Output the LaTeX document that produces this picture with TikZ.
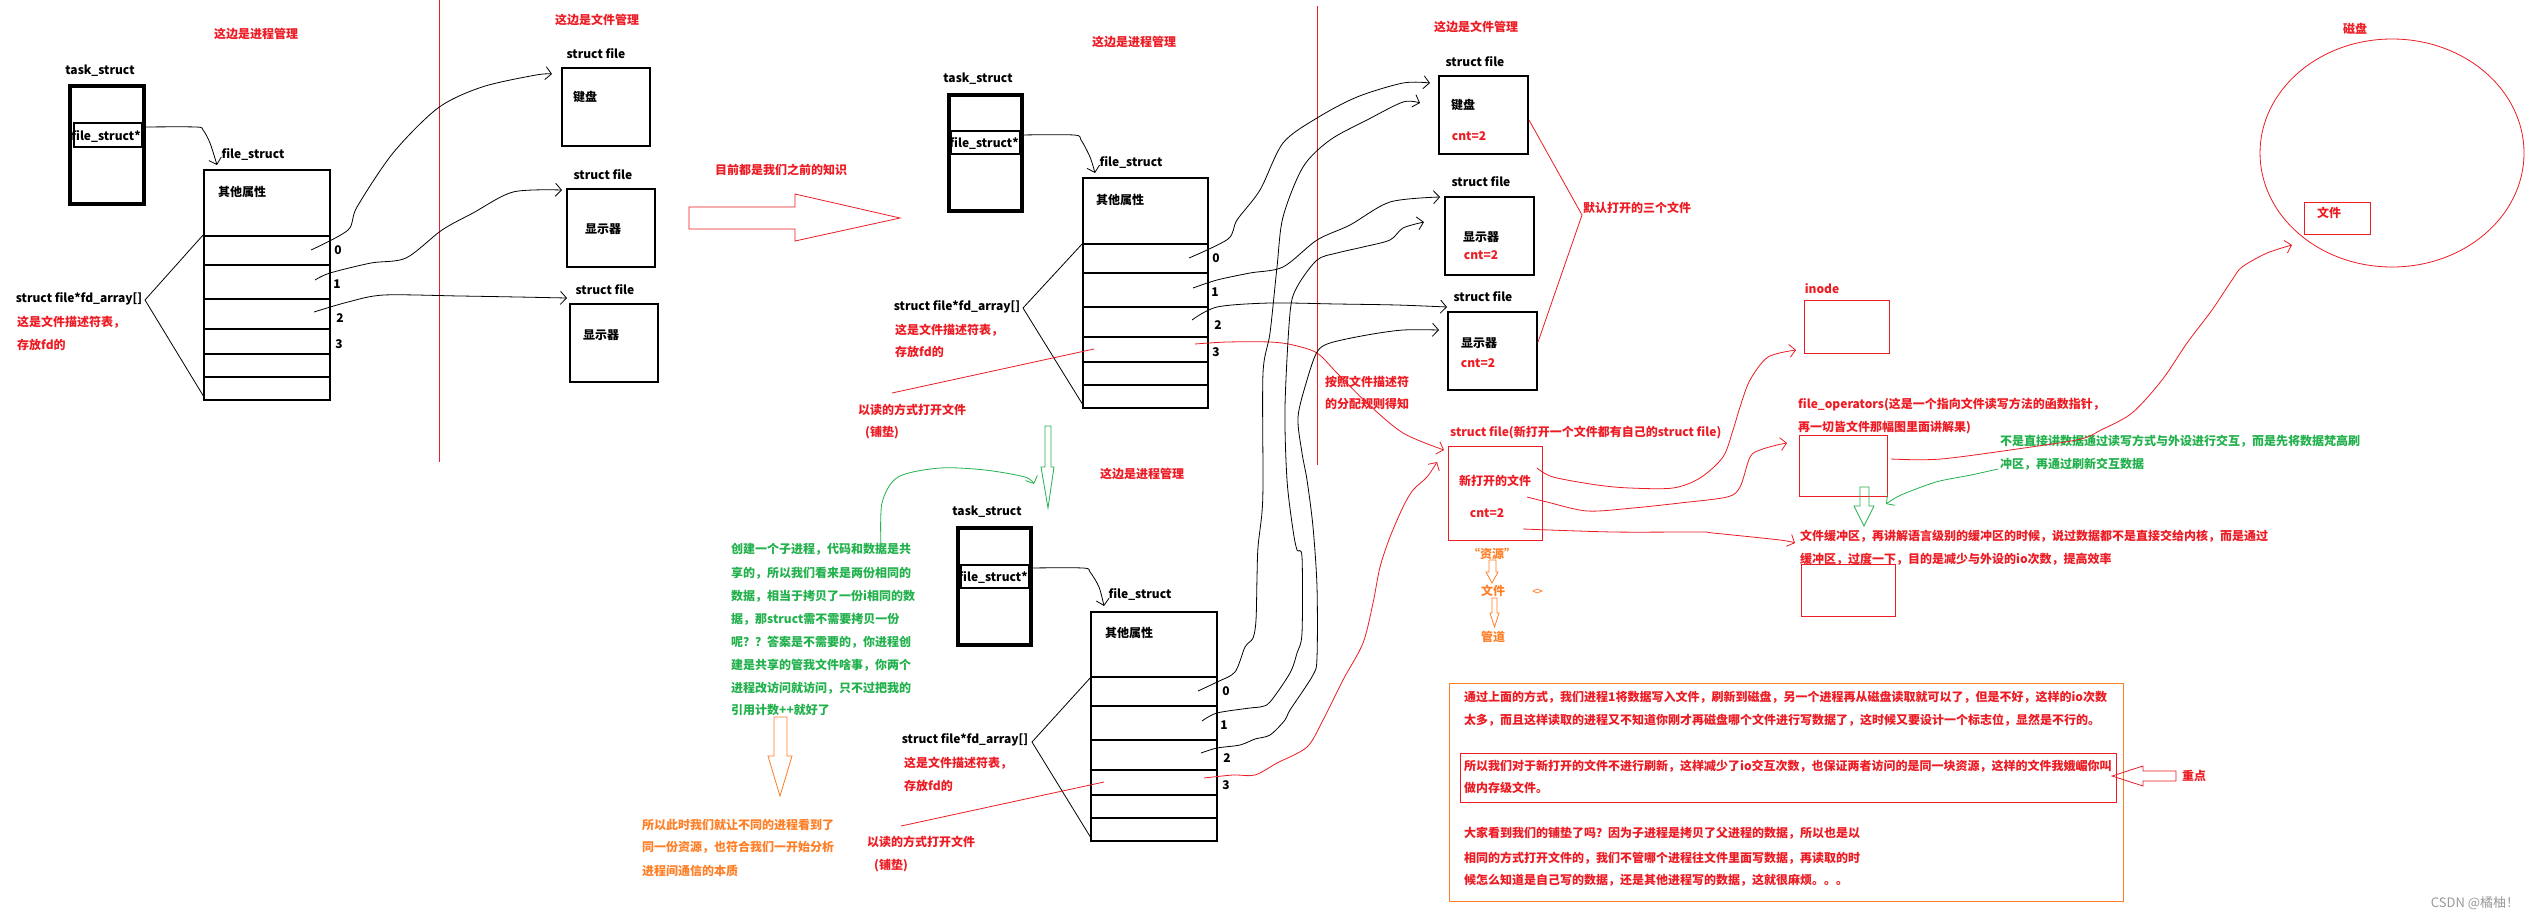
\documentclass[tikz,border=0pt]{standalone}
\usepackage{fontspec}
\setmainfont{Noto Sans CJK SC}
\usetikzlibrary{arrows.meta,shapes.geometric}
\definecolor{pred}{HTML}{ED1C24}
\definecolor{pgreen}{HTML}{22B14C}
\definecolor{porange}{HTML}{FF7F27}
\newcommand\fz{\fontsize{12}{14}\selectfont}
\newcommand\fdrows[3]{\foreach \yy in {#3} {\draw[line width=1.2pt] (#1,\yy) -- (#2,\yy);}}
\tikzset{
 lb/.style={inner sep=0pt, font=\fz\bfseries},
 bk/.style={lb, text=black},
 rd/.style={lb, text=pred},
 gn/.style={lb, text=pgreen},
 og/.style={lb, text=porange},
 bx/.style={draw, line width=1.2pt, inner sep=0pt, outer sep=0pt, anchor=north west},
 rbx/.style={bx, draw=pred, line width=1pt},
 tb/.style={draw, line width=4pt, inner sep=0pt, outer sep=0pt, anchor=north west},
 cv/.style={line width=0.8pt, -{Straight Barb[length=6pt,width=13pt]}},
 sm/.style={smooth, tension=0.5},
}
\begin{document}
\begin{tikzpicture}[x=1pt,y=-1pt]
\useasboundingbox (0,0) rectangle (2537,919);
\fill[white] (0,0) rectangle (2537,919);

%%%%%%%%%%%%%%%% left: process 1
\node[rd] (h1) at (256,34) {这边是进程管理};
\node[rd] (h2) at (597,20) {这边是文件管理};
\draw[pred, line width=0.8pt] (439,0) coordinate (d1a) -- (439,462) coordinate (d1b);
\node[bk] (tl1) at (100,71) {task\_struct};
\node[tb, minimum width=74pt, minimum height=118pt] (t1) at (70,86) {};
\node[bx, minimum width=68pt, minimum height=24pt] (p1) at (74,123) {};
\node[bk] at (106,136) {file\_struct*};
\draw[cv] plot[sm] coordinates {(142,127) (196,127) (203,130) (210,143) (217,165)};
\node[bk] (fl1) at (253,154) {file\_struct};
\node[bx, minimum width=126pt, minimum height=230pt] (fd1) at (204,170) {};
\fdrows{204}{330}{236,265,299,329,354,377}
\node[bk] at (242,192) {其他属性};
\node[bk] at (338,250) {0};
\node[bk] at (337,284) {1};
\node[bk] at (340,318) {2};
\node[bk] at (339,344) {3};
\node[bk] (fa1) at (79,299) {struct file*fd\_array[]};
\node[rd, anchor=west] at (17,322) {这是文件描述符表，};
\node[rd, anchor=west] at (17,345) {存放fd的};
\draw[line width=0.8pt] (204,234) -- (145,300) -- (204,397);
% struct files
\node[bk] at (596,54) {struct file};
\node[bx, minimum width=88pt, minimum height=78pt] (sf1) at (562,68) {};
\node[bk] at (585,97) {键盘};
\node[bk] at (603,175) {struct file};
\node[bx, minimum width=88pt, minimum height=78pt] (sf2) at (567,189) {};
\node[bk] at (603,229) {显示器};
\node[bk] at (605,290) {struct file};
\node[bx, minimum width=88pt, minimum height=78pt] (sf3) at (570,304) {};
\node[bk] at (601,335) {显示器};
\draw[cv] plot[sm] coordinates {(311,250) (348,230) (357,207) (393,153) (438,108) (482,87) (536,75) (552,74)};
\draw[cv] plot[sm] coordinates {(315,280) (330,273) (371,263) (406,258) (442,230) (473,213) (513,192) (562,190)};
\draw[cv] plot[sm] coordinates {(314,312) (348,302) (384,295) (460,296) (518,297) (567,298)};

%%%%%%%%%%%%%%%% big arrow
\draw[pred, line width=0.8pt] (689,207) -- (795,207) -- (795,194) -- (900,218) -- (795,241) -- (795,229) -- (689,229) -- cycle;
\node[rd] at (781,170) {目前都是我们之前的知识};

%%%%%%%%%%%%%%%% middle top: process 2
\node[rd] at (1134,42) {这边是进程管理};
\node[bk] at (978,79) {task\_struct};
\node[tb, minimum width=73pt, minimum height=116pt] (t2) at (949,95) {};
\node[bx, minimum width=69pt, minimum height=23pt] (p2) at (951,131) {};
\node[bk] at (984,143) {file\_struct*};
\draw[cv] plot[sm] coordinates {(1020,135) (1074,135) (1081,140) (1090,157) (1095,173)};
\node[bk] at (1131,162) {file\_struct};
\node[bx, minimum width=125pt, minimum height=230pt] (fd2) at (1083,178) {};
\fdrows{1083}{1208}{244,273,307,337,362,385}
\node[bk] at (1120,200) {其他属性};
\node[bk] at (1216,258) {0};
\node[bk] at (1215,292) {1};
\node[bk] at (1218,325) {2};
\node[bk] at (1216,352) {3};
\node[bk] at (957,307) {struct file*fd\_array[]};
\node[rd, anchor=west] at (895,330) {这是文件描述符表，};
\node[rd, anchor=west] at (895,352) {存放fd的};
\draw[line width=0.8pt] (1083,243) -- (1023,308) -- (1083,405);
\draw[pred, line width=0.8pt] (1094,349) -- (892,393);
\node[rd] at (912,410) {以读的方式打开文件};
\node[rd] at (882,433) {(铺垫)};

%%%%%%%%%%%%%%%% middle: file management
\draw[pred, line width=0.8pt] (1317,6) -- (1317,465);
\node[rd] at (1476,27) {这边是文件管理};
\node[bk] at (1475,62) {struct file};
\node[bx, minimum width=89pt, minimum height=78pt] (S1) at (1439,76) {};
\node[bk] at (1463,105) {键盘};
\node[rd] at (1469,136) {cnt=2};
\node[bk] at (1481,182) {struct file};
\node[bx, minimum width=89pt, minimum height=78pt] (S2) at (1445,197) {};
\node[bk] at (1481,237) {显示器};
\node[rd] at (1481,255) {cnt=2};
\node[bk] at (1483,297) {struct file};
\node[bx, minimum width=89pt, minimum height=78pt] (S3) at (1448,312) {};
\node[bk] at (1479,343) {显示器};
\node[rd] at (1478,363) {cnt=2};
\draw[pred, line width=0.8pt] (1529,120) -- (1582,215) -- (1538,342);
\node[rd, anchor=west] at (1583,208) {默认打开的三个文件};
\node[rd, anchor=west] at (1325,382) {按照文件描述符};
\node[rd, anchor=west] at (1325,404) {的分配规则得知};
\node[rd, anchor=west] at (1450,433) {struct file(新打开一个文件都有自己的struct file)};
\node[rbx, minimum width=94pt, minimum height=94pt] (NF) at (1448,446) {};
\node[rd] at (1495,481) {新打开的文件};
\node[rd] at (1487,513) {cnt=2};

% curves from process 2
\draw[cv] plot[sm] coordinates {(1189,258) (1228,239) (1237,220) (1260,190) (1283,143) (1317,118) (1357,97) (1403,83) (1430,83)};
\draw[cv] plot[sm] coordinates {(1193,288) (1217,280) (1250,273) (1283,267) (1317,240) (1350,225) (1390,202) (1440,197)};
\draw[cv] plot[sm] coordinates {(1192,320) (1217,307) (1270,303) (1337,304) (1397,305) (1447,307)};
\draw[cv, pred] plot[sm] coordinates {(1195,344) (1227,342) (1270,342) (1293,345) (1317,353) (1337,373) (1367,403) (1403,433) (1444,450)};

%%%%%%%%%%%%%%%% bottom: process 3
\draw[pgreen, line width=0.8pt] (1045,426) -- (1045,467) -- (1041,467) -- (1048,508) -- (1054,467) -- (1051,467) -- (1051,426) -- cycle;
\node[rd] at (1142,474) {这边是进程管理};
\node[bk] at (987,512) {task\_struct};
\node[tb, minimum width=73pt, minimum height=117pt] (t3) at (958,528) {};
\node[bx, minimum width=68pt, minimum height=23pt] (p3) at (961,565) {};
\node[bk] at (993,577) {file\_struct*};
\draw[cv] plot[sm] coordinates {(1029,568) (1083,568) (1090,572) (1099,587) (1104,606)};
\node[bk] at (1140,594) {file\_struct};
\node[bx, minimum width=126pt, minimum height=229pt] (fd3) at (1091,612) {};
\fdrows{1091}{1217}{677,706,740,770,795,818}
\node[bk] at (1129,633) {其他属性};
\node[bk] at (1226,691) {0};
\node[bk] at (1224,725) {1};
\node[bk] at (1227,758) {2};
\node[bk] at (1226,785) {3};
\node[bk] at (965,740) {struct file*fd\_array[]};
\node[rd, anchor=west] at (904,763) {这是文件描述符表，};
\node[rd, anchor=west] at (904,786) {存放fd的};
\draw[line width=0.8pt] (1091,677) -- (1032,742) -- (1091,838);
\draw[pred, line width=0.8pt] (1104,782) -- (901,826);
\node[rd] at (921,842) {以读的方式打开文件};
\node[rd] at (891,866) {(铺垫)};

% curves from process 3
\draw[cv] plot[sm] coordinates {(1198,691) (1217,682) (1235,672) (1245,647) (1253,638) (1256,620) (1257,577) (1258,547) (1262,512) (1263,480) (1263,373) (1270,333) (1277,267) (1283,217) (1303,167) (1330,140) (1367,120) (1403,102) (1420,103)};
\draw[cv] plot[sm] coordinates {(1202,721) (1217,713) (1250,708) (1260,707) (1270,702) (1290,673) (1297,653) (1302,633) (1302,557) (1297,550) (1293,530) (1287,480) (1285,407) (1290,313) (1297,287) (1317,260) (1337,253) (1363,247) (1390,240) (1403,228) (1424,222)};
\draw[cv] plot[sm] coordinates {(1201,753) (1217,748) (1240,745) (1255,739) (1270,735) (1285,720) (1290,710) (1313,675) (1317,657) (1317,587) (1313,527) (1307,480) (1302,453) (1298,417) (1307,380) (1317,352) (1330,343) (1367,335) (1403,330) (1439,330)};
\draw[cv, pred] plot[sm] coordinates {(1204,778) (1233,775) (1255,775) (1277,763) (1307,747) (1323,720) (1343,680) (1363,643) (1373,603) (1380,567) (1390,537) (1403,507) (1413,490) (1427,477) (1437,462)};

% green note
\draw[cv, pgreen] plot[sm] coordinates {(881,547) (882,503) (898,477) (940,468) (985,470) (1025,477) (1034,484)};
\begin{scope}[every node/.style={gn, anchor=west}]
\node at (731,549) {创建一个子进程，代码和数据是共};
\node at (731,573) {享的，所以我们看来是两份相同的};
\node at (731,596) {数据，相当于拷贝了一份i相同的数};
\node at (731,619) {据，那struct需不需要拷贝一份};
\node at (731,642) {呢？？答案是不需要的，你进程创};
\node at (731,665) {建是共享的管我文件啥事，你两个};
\node at (731,688) {进程改访问就访问，只不过把我的};
\node at (731,710) {引用计数++就好了};
\end{scope}
% orange note
\draw[porange, line width=0.8pt] (774,717) -- (774,756) -- (768,756) -- (780,796) -- (792,756) -- (787,756) -- (787,717) -- cycle;
\begin{scope}[every node/.style={og, anchor=west}]
\node at (642,825) {所以此时我们就让不同的进程看到了};
\node at (642,847) {同一份资源，也符合我们一开始分析};
\node at (642,871) {进程间通信的本质};
\end{scope}
% resource chain
\node[og] at (1492,554) {“资源”};
\draw[porange, line width=0.8pt] (1489,560) -- (1489,572) -- (1486,572) -- (1492,583) -- (1498,572) -- (1496,572) -- (1496,560) -- cycle;
\node[og] at (1493,591) {文件};
\draw[porange, line width=0.8pt] (1492,598) -- (1492,613) -- (1490,613) -- (1494.5,627) -- (1499,613) -- (1497,613) -- (1497,598) -- cycle;
\node[og] at (1493,637) {管道};
\draw[porange, line width=0.7pt] (1533,591) -- (1537,589) -- (1542,591) -- (1537,593) -- cycle;

%%%%%%%%%%%%%%%% right side
\node[rd] at (1822,289) {inode};
\node[rbx, minimum width=85pt, minimum height=53pt] (IN) at (1804,300) {};
\node[rd, anchor=west] at (1798,405) {file\_operators(这是一个指向文件读写方法的函数指针，};
\node[rd, anchor=west] at (1798,428) {再一切皆文件那幅图里面讲解果)};
\node[rbx, minimum width=88pt, minimum height=61pt] (FO) at (1799,435) {};
\draw[pgreen, line width=0.8pt] (1860,487) -- (1860,506) -- (1854,506) -- (1864,526) -- (1874,506) -- (1869,506) -- (1869,487) -- cycle;
\node[rd, anchor=west] at (1800,536) {文件缓冲区，再讲解语言级别的缓冲区的时候，说过数据都不是直接交给内核，而是通过};
\node[rd, anchor=west] at (1800,559) {缓冲区，过度一下，目的是减少与外设的io次数，提高效率};
\node[rbx, minimum width=94pt, minimum height=52pt] (BF) at (1801,564) {};
\node[gn, anchor=west] at (2000,441) {不是直接讲数据通过读写方式与外设进行交互，而是先将数据梵高刷};
\node[gn, anchor=west] at (2000,464) {冲区，再通过刷新交互数据};
\draw[cv, pgreen] plot[sm] coordinates {(1998,469) (1971,475) (1936,482) (1901,495) (1886,504)};

\draw[cv, pred] plot[sm] coordinates {(1537,468) (1553,477) (1597,485) (1630,488) (1673,488) (1700,478) (1723,457) (1733,430) (1740,407) (1750,380) (1768,357) (1796,350)};
\draw[cv, pred] plot[sm] coordinates {(1527,497) (1547,502) (1587,511) (1633,508) (1680,503) (1727,497) (1740,487) (1750,457) (1760,450) (1777,445) (1787,443)};
\draw[cv, pred] plot[sm] coordinates {(1523,529) (1613,532) (1700,532) (1713,533) (1780,540) (1795,543)};
\draw[cv, pred] plot[sm] coordinates {(1891,459) (1941,459) (2031,447) (2081,439) (2101,430) (2132,413) (2162,380) (2187,343) (2212,310) (2232,280) (2242,267) (2267,253) (2292,245)};

\node[draw=pred, line width=0.8pt, ellipse, minimum width=264pt, minimum height=228pt, inner sep=0pt] (DK) at (2392,153) {};
\node[rd] at (2355,29) {磁盘};
\node[rbx, minimum width=66pt, minimum height=32pt] (FB) at (2304,202) {};
\node[rd] at (2329,213) {文件};

%%%%%%%%%%%%%%%% bottom note
\node[bx, draw=porange, line width=1pt, minimum width=674pt, minimum height=218pt] (OB) at (1449,683) {};
\node[rbx, minimum width=656pt, minimum height=49pt] (RB) at (1460,753) {};
\begin{scope}[every node/.style={rd, anchor=west}]
\node at (1464,697) {通过上面的方式，我们进程1将数据写入文件，刷新到磁盘，另一个进程再从磁盘读取就可以了，但是不好，这样的io次数};
\node at (1464,720) {太多，而且这样读取的进程又不知道你刚才再磁盘哪个文件进行写数据了，这时候又要设计一个标志位，显然是不行的。};
\node at (1464,766) {所以我们对于新打开的文件不进行刷新，这样减少了io交互次数，也保证两者访问的是同一块资源，这样的文件我娥嵋你叫};
\node at (1464,788) {做内存级文件。};
\node at (1464,833) {大家看到我们的铺垫了吗？因为子进程是拷贝了父进程的数据，所以也是以};
\node at (1464,858) {相同的方式打开文件的，我们不管哪个进程往文件里面写数据，再读取的时};
\node at (1464,880) {候怎么知道是自己写的数据，还是其他进程写的数据，这就很麻烦。。。};
\end{scope}
\draw[pred, line width=0.8pt] (2112,776) -- (2143,766) -- (2143,771) -- (2176,771) -- (2176,781) -- (2143,781) -- (2143,786) -- cycle;
\node[rd] at (2194,776) {重点};
\node[inner sep=0pt, text=black!40, font=\fontsize{13}{15}\selectfont] at (2475,903) {CSDN @橘柚！};
\end{tikzpicture}
\end{document}
